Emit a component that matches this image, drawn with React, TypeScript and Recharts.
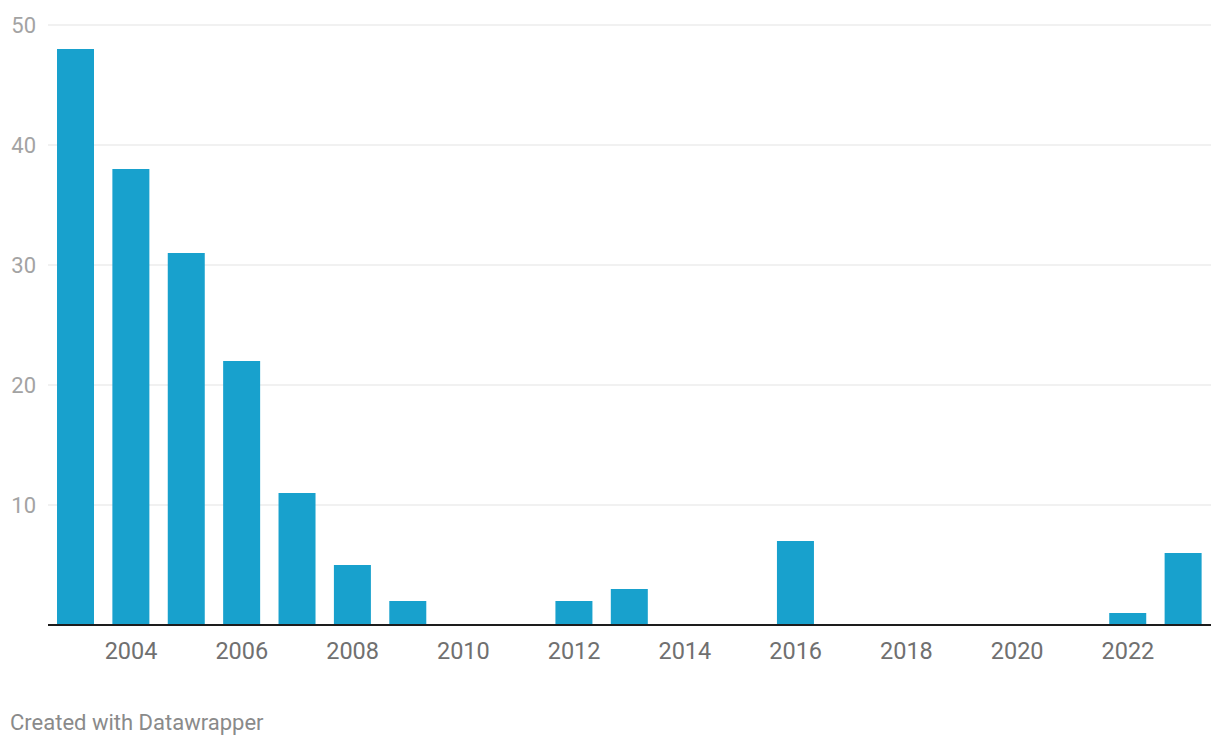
import React from 'react';
import { BarChart, Bar, XAxis, YAxis, CartesianGrid } from 'recharts';

const years = [
    '2003', '2004', '2005', '2006', '2007', '2008', '2009', '2010', '2011', '2012', '2013',
    '2014', '2015', '2016', '2017', '2018', '2019', '2020', '2021', '2022', '2023',
];
const counts = [48, 38, 31, 22, 11, 5, 2, 0, 0, 2, 3, 0, 0, 7, 0, 0, 0, 0, 0, 1, 6];
const yTicks = [0, 10, 20, 30, 40, 50];

const data = years.map((year, i) => ({ year, value: counts[i] }));

const FONT = 'Roboto, "Noto Sans", sans-serif';

const App: React.FC = () => {
    return (
        <div style={{ position: 'absolute', left: 0, top: 0, width: 1220, height: 748, background: '#fff', fontFamily: FONT }}>
            <BarChart
                width={1220}
                height={748}
                data={data}
                margin={{ top: 25, right: 9, left: 0, bottom: 83 }}
                barCategoryGap={9}
            >
                <CartesianGrid vertical={false} stroke="#e3e3e3" strokeWidth={1} />
                <YAxis
                    width={48}
                    domain={[0, 50]}
                    ticks={yTicks}
                    axisLine={false}
                    tickLine={false}
                    tickSize={0}
                    tickMargin={12}
                    tickFormatter={(v: number) => (v === 0 ? '' : String(v))}
                    tick={{ fill: '#a3a3a3', fontSize: 22, fontFamily: FONT }}
                />
                <XAxis
                    dataKey="year"
                    height={40}
                    interval={0}
                    tickLine={false}
                    tickSize={0}
                    tickMargin={17}
                    axisLine={{ stroke: '#1d1d1d', strokeWidth: 2 }}
                    tickFormatter={(v: string) => (Number(v) % 2 === 0 ? v : '')}
                    tick={{ fill: '#707070', fontSize: 23.5, fontFamily: FONT }}
                />
                <Bar dataKey="value" fill="#18a1cd" barSize={37} isAnimationActive={false} />
            </BarChart>
            <div style={{ position: 'absolute', left: 10, top: 710, fontSize: 22, color: '#8a8a8a', fontFamily: FONT }}>
                Created with Datawrapper
            </div>
        </div>
    );
};

export default App;
